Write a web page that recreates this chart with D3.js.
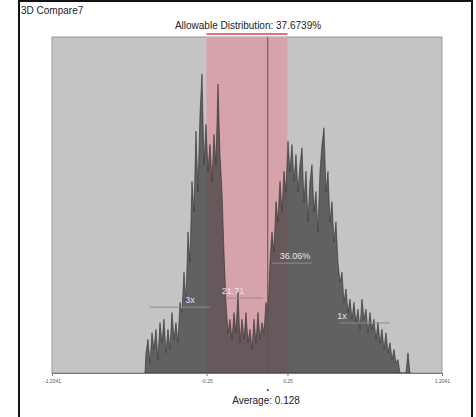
<!DOCTYPE html>
<html>
<head>
<meta charset="utf-8">
<script src="https://cdn.jsdelivr.net/npm/d3@7"></script>
<style>
  body { margin: 0; background: #fff; }
  text { font-family: "Liberation Sans", Arial, sans-serif; }
</style>
</head>
<body>
<div id="grafico"></div>
<script>
// dados do histograma (deviation buckets)
const chartName = "3D Compare7";
const allowablePct = "37.6739%";
const averageValue = 0.128;
const axisMin = -1.2041, axisMax = 1.2041;
const tolLow = -0.25, tolHigh = 0.25;
const tickValues = [-1.2041, -0.25, 0.25, 1.2041];
const tickLabels = ["-1.2041", "-0.25", "0.25", "1.2041"];

const binStart = -0.630;
const binWidth = 0.01235;
const counts = [
  6, 10, 3, 12, 7, 13, 4, 15, 9, 16, 6, 13, 7, 18, 10, 15, 9, 21, 18, 30,
  21, 42, 33, 57, 48, 72, 54, 77, 89, 62, 74, 60, 68, 57, 71, 62, 86, 65, 54, 36,
  21, 12, 16, 10, 18, 12, 24, 9, 16, 10, 18, 9, 13, 7, 16, 9, 18, 10, 15, 12,
  21, 18, 33, 42, 36, 51, 45, 57, 48, 60, 54, 69, 60, 68, 57, 65, 54, 62, 67, 51,
  60, 45, 57, 62, 48, 54, 42, 60, 68, 73, 54, 60, 45, 51, 39, 45, 33, 27, 30, 21,
  25, 18, 22, 16, 21, 15, 19, 13, 22, 16, 19, 12, 18, 13, 16, 10, 15, 9, 13, 7,
  12, 6, 9, 4, 7, 3, 4, 0, 0, 0, 0, 6, 0
];

// marcas: [início, fim, altura, texto, posição do texto]
const markers = [
  [-0.599, -0.229, 19.6, "3x", -0.352],
  [-0.124, 0.099, 22.3, "21.71", -0.087],
  [0.154, 0.401, 32.7, "36.06%", 0.296],
  [0.574, 0.883, 14.9, "1x", 0.587]
];

const W = 476, H = 417;
const margin = { top: 37, right: 34, bottom: 44, left: 52 };
const pw = W - margin.left - margin.right;
const ph = H - margin.top - margin.bottom;

const svg = d3.select("#grafico").append("svg")
  .attr("width", W).attr("height", H);

// moldura externa
svg.append("rect")
  .attr("x", 19).attr("y", 1).attr("width", 453).attr("height", 420)
  .attr("fill", "none").attr("stroke", "#111").attr("stroke-width", 2);

svg.append("text").attr("x", 21).attr("y", 14)
  .attr("font-size", 10).attr("fill", "#222").text(chartName);

svg.append("text").attr("x", 248).attr("y", 29)
  .attr("text-anchor", "middle").attr("font-size", 10).attr("fill", "#222")
  .text("Allowable Distribution: " + allowablePct);

const g = svg.append("g")
  .attr("transform", `translate(${margin.left},${margin.top})`);

let x = d3.scaleLinear().domain([axisMin, axisMax]).range([0, pw]);
let y = d3.scaleLinear().domain([0, 100]).range([ph, 0]);

// linha vermelha sob o título
svg.append("line")
  .attr("x1", margin.left + x(tolLow)).attr("x2", margin.left + x(tolHigh))
  .attr("y1", 34).attr("y2", 34)
  .attr("stroke", "#e0707e").attr("stroke-width", 2);

g.append("rect")
  .attr("width", pw).attr("height", ph)
  .attr("fill", "#c4c4c4").attr("stroke", "#9a9a9a");

// faixa tolerância
g.append("rect")
  .attr("x", x(tolLow)).attr("y", 0)
  .attr("width", x(tolHigh) - x(tolLow)).attr("height", ph)
  .attr("fill", "#d7a3ab");

// histograma
const pts = counts.map((c, i) => ({ v: binStart + (i + 0.5) * binWidth, c: c }));
const area = d3.area()
  .x(d => x(d.v))
  .y0(ph)
  .y1(d => y(d.c));

g.append("path")
  .datum([{ v: binStart, c: 0 }].concat(pts, [{ v: binStart + counts.length * binWidth, c: 0 }]))
  .attr("d", area)
  .attr("fill", "#404040").attr("fill-opacity", 0.75)
  .attr("stroke", "#2e2e2e").attr("stroke-width", 0.6);

// linha da média
g.append("line")
  .attr("x1", x(averageValue)).attr("x2", x(averageValue))
  .attr("y1", 0).attr("y2", ph)
  .attr("stroke", "#555").attr("stroke-width", 1);

// marcadores
markers.forEach(m => {
  g.append("line")
    .attr("x1", x(m[0])).attr("x2", x(m[1]))
    .attr("y1", y(m[2])).attr("y2", y(m[2]))
    .attr("stroke", "#8c8c8c").attr("stroke-width", 1);
  g.append("text")
    .attr("x", x(m[4])).attr("y", y(m[2]) - 4)
    .attr("text-anchor", "middle").attr("font-size", 9).attr("fill", "#e6e6e6")
    .text(m[3]);
});

// eixo x
const ax = g.append("g")
  .attr("transform", `translate(0,${ph})`)
  .call(d3.axisBottom(x).tickValues(tickValues).tickFormat((d, i) => tickLabels[i]).tickSize(3));
ax.select(".domain").attr("stroke", "#777");
ax.selectAll("line").attr("stroke", "#777");
ax.selectAll("text").attr("font-size", 5).attr("fill", "#555");

svg.append("circle")
  .attr("cx", margin.left + x(averageValue)).attr("cy", 390).attr("r", 1)
  .attr("fill", "#333");

svg.append("text").attr("x", 266).attr("y", 404)
  .attr("text-anchor", "middle").attr("font-size", 10).attr("fill", "#222")
  .text("Average: " + averageValue);
</script>
</body>
</html>
